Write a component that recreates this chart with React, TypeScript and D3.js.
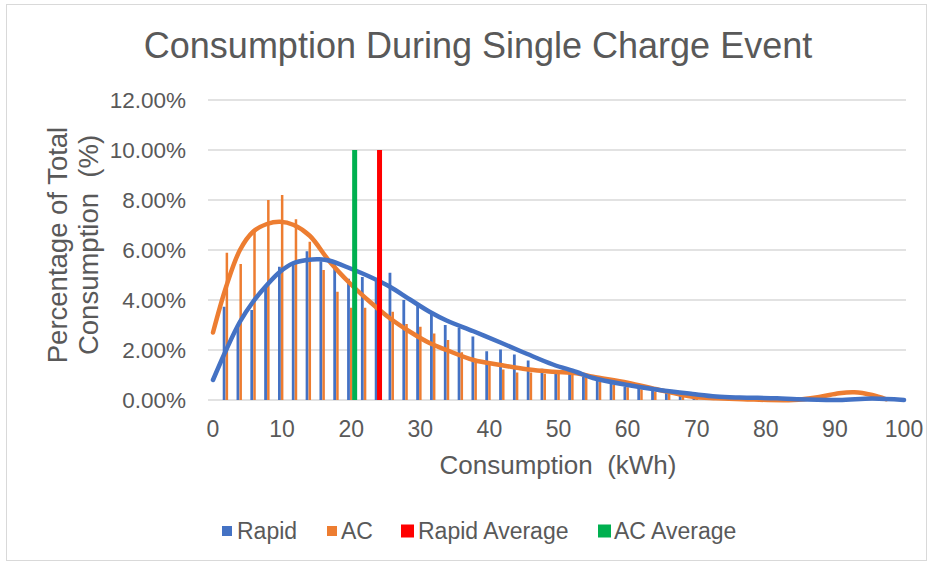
import React from "react";
import * as d3 from "d3";

// ---- data ----
const bins = [2, 4, 6, 8, 10, 12, 14, 16, 18, 20, 22, 24, 26, 28, 30, 32, 34, 36, 38, 40, 42, 44, 46, 48, 50, 52, 54, 56, 58, 60, 62, 64, 66, 68, 70];
const rapid = [3.73, 2.9, 3.6, 4.6, 5.33, 5.47, 5.95, 5.55, 5.4, 4.85, 4.92, 4.76, 5.09, 4.0, 3.8, 3.49, 3.0, 2.88, 2.54, 1.95, 2.02, 1.82, 1.58, 1.25, 1.13, 1.12, 0.93, 0.83, 0.67, 0.53, 0.47, 0.4, 0.33, 0.27, 0.2];
const ac = [5.89, 5.44, 6.8, 8.0, 8.2, 7.23, 6.33, 5.2, 4.33, 3.69, 3.69, 3.4, 3.53, 3.04, 2.93, 2.66, 2.4, 1.91, 1.63, 1.43, 1.22, 1.1, 1.1, 1.05, 1.05, 1.0, 0.93, 0.73, 0.6, 0.51, 0.43, 0.33, 0.27, 0.2, 0.13];

// trendline points [kWh, %]
const rapidTrendX = [0, 1.9, 3.9, 5.8, 7.8, 9.7, 11.6, 13.6, 15.4, 16.9, 19.8, 22.7, 25.6, 28.5, 31.4, 33.8, 37.7, 41.6, 45.4, 49.2, 52.6, 55.0, 60.0, 64.6, 69.4, 72.8, 76.2, 81.6, 84.5, 90.6, 95.4, 100];
const rapidTrendY = [0.8, 2.0, 3.13, 3.93, 4.6, 5.13, 5.47, 5.6, 5.63, 5.57, 5.27, 4.93, 4.53, 4.02, 3.52, 3.18, 2.75, 2.3, 1.85, 1.42, 1.12, 0.88, 0.6, 0.4, 0.24, 0.14, 0.1, 0.07, 0.03, 0.0, 0.06, 0.0];
const acTrendX = [0, 1.9, 3.9, 5.8, 7.8, 9.7, 11.7, 14.0, 16.9, 19.8, 22.7, 25.6, 28.5, 31.4, 33.8, 37.7, 41.6, 45.4, 49.2, 52.6, 55.0, 60.0, 64.6, 69.4, 72.8, 76.7, 84.0, 87.9, 90.6, 92.8, 95.4, 97.4];
const acTrendY = [2.7, 4.53, 6.0, 6.73, 7.04, 7.13, 7.0, 6.57, 5.53, 4.67, 3.93, 3.27, 2.73, 2.27, 2.0, 1.6, 1.4, 1.23, 1.13, 1.07, 0.93, 0.69, 0.4, 0.13, 0.07, 0.03, 0.0, 0.13, 0.27, 0.31, 0.2, 0.03];

const rapidAverage = 24.1;
const acAverage = 20.5;
const averageHeight = 10;

const xTicks = [0, 10, 20, 30, 40, 50, 60, 70, 80, 90, 100];
const yTicks = [0, 2, 4, 6, 8, 10, 12];

const title = "Consumption During Single Charge Event";
const xTitle = "Consumption\u00a0 (kWh)";
const yTitle1 = "Percentage of Total";
const yTitle2 = "Consumption\u00a0 (%)";
const legendItems = [
  { label: "Rapid", color: "#4472C4" },
  { label: "AC", color: "#ED7D31" },
  { label: "Rapid Average", color: "#FF0000" },
  { label: "AC Average", color: "#00B050" },
];

const BLUE = "#4472C4";
const ORANGE = "#ED7D31";
const RED = "#FF0000";
const GREEN = "#00B050";
const TEXT = "#595959";
const FONT = "'Liberation Sans', Arial, sans-serif";

export default function App() {
  const W = 932, H = 565;
  const x = d3.scaleLinear().domain([0, 100]).range([213, 904]);
  const y = d3.scaleLinear().domain([0, 12]).range([400, 100]);

  const line = d3
    .line<[number, number]>()
    .x((d) => x(d[0]))
    .y((d) => y(d[1]))
    .curve(d3.curveCatmullRom.alpha(0.5));

  const rapidPts = rapidTrendX.map((v, i) => [v, rapidTrendY[i]] as [number, number]);
  const acPts = acTrendX.map((v, i) => [v, acTrendY[i]] as [number, number]);

  const legendX = [222, 327, 401, 598];
  const legendSq = [10, 10, 13, 13];
  const legendTextX = [237, 341, 418, 614];

  return (
    <svg width={W} height={H} style={{ position: "absolute", left: 0, top: 0, background: "#fff" }} fontFamily={FONT}>
      <rect x={6.5} y={4.5} width={W - 12} height={H - 9} fill="#fff" stroke="#d9d9d9" strokeWidth={1} />
      <text x={478} y={58} textAnchor="middle" fontSize={36} fill={TEXT}>{title}</text>

      {/* grid */}
      {yTicks.map((t) => (
        <line key={"g" + t} x1={208} x2={906} y1={y(t)} y2={y(t)} stroke="#d9d9d9" strokeWidth={1.5} />
      ))}
      {yTicks.map((t) => (
        <text key={"yl" + t} x={186} y={y(t)} dy="0.35em" textAnchor="end" fontSize={22.5} fill={TEXT}>
          {t.toFixed(2) + "%"}
        </text>
      ))}
      {xTicks.map((t) => (
        <text key={"xl" + t} x={x(t)} y={437} textAnchor="middle" fontSize={23} fill={TEXT}>{t}</text>
      ))}

      {/* bars */}
      {bins.map((b, i) => (
        <rect key={"r" + b} x={x(b) - 4.1} width={2.8} y={y(rapid[i])} height={y(0) - y(rapid[i])} fill={BLUE} />
      ))}
      {bins.map((b, i) => (
        <rect key={"a" + b} x={x(b) - 1.2} width={2.5} y={y(ac[i])} height={y(0) - y(ac[i])} fill={ORANGE} />
      ))}

      {/* trendlines */}
      <path d={line(acPts) || ""} fill="none" stroke={ORANGE} strokeWidth={4.5} strokeLinecap="round" strokeLinejoin="round" />
      <path d={line(rapidPts) || ""} fill="none" stroke={BLUE} strokeWidth={4.5} strokeLinecap="round" strokeLinejoin="round" />

      {/* averages */}
      <rect x={x(acAverage) - 2.5} width={5} y={y(averageHeight)} height={y(0) - y(averageHeight)} fill={GREEN} />
      <rect x={x(rapidAverage) - 2.5} width={5} y={y(averageHeight)} height={y(0) - y(averageHeight)} fill={RED} />

      {/* axis titles */}
      <text x={558} y={474} textAnchor="middle" fontSize={26} fill={TEXT}>{xTitle}</text>
      <text transform="translate(57,245) rotate(-90)" textAnchor="middle" dy="0.35em" fontSize={27.5} fill={TEXT}>{yTitle1}</text>
      <text transform="translate(88,245) rotate(-90)" textAnchor="middle" dy="0.35em" fontSize={27.5} fill={TEXT}>{yTitle2}</text>

      {/* legend */}
      {legendItems.map((it, i) => (
        <g key={it.label}>
          <rect x={legendX[i]} y={531 - legendSq[i] / 2} width={legendSq[i]} height={legendSq[i]} fill={it.color} />
          <text x={legendTextX[i]} y={539} fontSize={23} fill={TEXT}>{it.label}</text>
        </g>
      ))}
    </svg>
  );
}
